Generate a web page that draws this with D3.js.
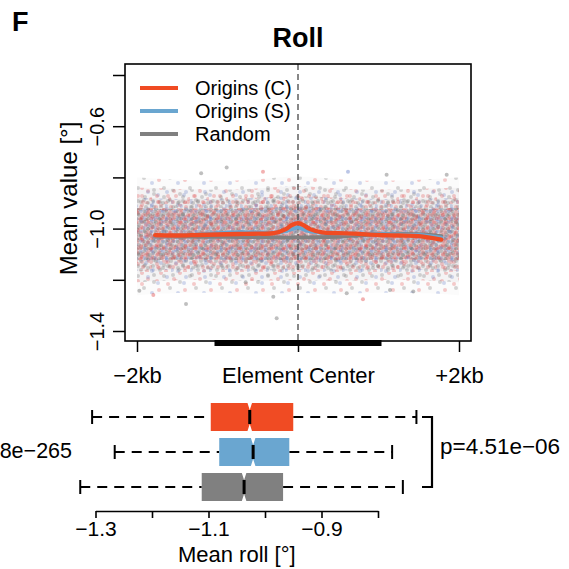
<!DOCTYPE html>
<html>
<head>
<meta charset="utf-8">
<script src="https://cdn.jsdelivr.net/npm/d3@7"></script>
<style>
body { margin: 0; background: #fff; }
text { font-family: "Liberation Sans", Arial, Helvetica, sans-serif; fill: #000; }
</style>
</head>
<body>
<div id="container"></div>
<script>
//profile data: smoothed mean roll around element centers (bp from center)
const profileBp = [-1775, -1500, -1250, -1000, -750, -500, -300, -150, -75, 0, 75, 150, 300, 500, 750, 1000, 1250, 1500, 1780]
const originsC = [-1.026, -1.027, -1.025, -1.023, -1.021, -1.020, -1.018, -1.002, -0.986, -0.979, -0.988, -1.002, -1.015, -1.018, -1.021, -1.025, -1.027, -1.029, -1.043]
const originsS = [-1.029, -1.027, -1.023, -1.018, -1.014, -1.015, -1.017, -1.009, -1.002, -0.996, -1.004, -1.011, -1.017, -1.019, -1.021, -1.021, -1.023, -1.025, -1.035]
const randomSet = [-1.031, -1.031, -1.032, -1.032, -1.033, -1.033, -1.034, -1.035, -1.035, -1.034, -1.034, -1.034, -1.033, -1.032, -1.027, -1.022, -1.021, -1.022, -1.029]

//point cloud envelopes, outer (sparse) to inner (dense)
const cloudBp = [-2000, -1500, -1000, -500, 0, 500, 1000, 1500, 2000]
const band1Top = [-0.80, -0.81, -0.815, -0.81, -0.79, -0.81, -0.815, -0.81, -0.80]
const band1Bot = [-1.26, -1.25, -1.25, -1.255, -1.25, -1.255, -1.25, -1.25, -1.26]
const band2Top = [-0.84, -0.845, -0.85, -0.845, -0.83, -0.845, -0.85, -0.845, -0.84]
const band2Bot = [-1.21, -1.20, -1.20, -1.205, -1.20, -1.205, -1.20, -1.20, -1.21]
const band3Top = [-0.88, -0.885, -0.885, -0.88, -0.87, -0.88, -0.885, -0.885, -0.88]
const band3Bot = [-1.165, -1.16, -1.16, -1.165, -1.16, -1.165, -1.16, -1.16, -1.165]
const band4Top = [-0.92, -0.925, -0.925, -0.92, -0.91, -0.92, -0.925, -0.925, -0.92]
const band4Bot = [-1.125, -1.12, -1.12, -1.125, -1.12, -1.125, -1.12, -1.12, -1.125]

//single stray points outside the cloud
const strayBp = [-265, -1391, -1971, -886, -650, 605, 621, -435, 807, 1847, 1101, -1203, -307, 1432, -1797, 1143]
const strayVal = [-1.350, -1.295, -1.243, -0.761, -1.210, -1.253, -0.778, -0.778, -1.276, -0.790, -0.790, -0.784, -1.266, -1.246, -1.259, -1.240]
const strayGroup = [2, 2, 2, 2, 2, 2, 1, 0, 0, 2, 2, 2, 2, 2, 0, 2]

//element region and axes
const elementRange = [-1000, 1000]
const profTicks = [-2000, 0, 2000]
const profTickLabels = ["\u22122kb", "Element Center", "+2kb"]
const yTicks = [-1.4, -1.2, -1.0, -0.8, -0.6, -0.4]
const yLabelled = [-1.4, -1.0, -0.6]

//boxplot data
const groups = ["Origins (C)", "Origins (S)", "Random"]
const groupColors = ["#f04b23", "#6aa6d0", "#808080"]
const boxQ1 = [-1.096, -1.081, -1.112]
const boxMed = [-1.027, -1.021, -1.037]
const boxQ3 = [-0.950, -0.957, -0.968]
const whiskLo = [-1.306, -1.266, -1.327]
const whiskHi = [-0.732, -0.775, -0.756]
const notchHalf = [0.004, 0.004, 0.004]
const boxTicks = [-1.3, -1.2, -1.1, -1.0, -0.9, -0.8]
const boxLabelled = [-1.3, -1.1, -0.9]

const width = 569, height = 569
const font = '"Liberation Sans", Arial, Helvetica, sans-serif'

let svg = d3.select("#container")
    .append("svg")
    .attr("width", width)
    .attr("height", height)

svg.append("rect").attr("width", width).attr("height", height).attr("fill", "#fff")
let defs = svg.append("defs")

//scales for the profile panel
const x = d3.scaleLinear().domain([-2000, 2000]).range([137, 459])
const y = d3.scaleLinear().domain([-1.4, -0.4]).range([331, 75])
const frame = {left: 125, top: 64, right: 471, bottom: 341}

//dot textures for the point cloud (R = red, B = blue, G = gray)
const dotColor = {R: "#de3b3b", B: "#5470c0", G: "#606060"}
function addPattern(id, w, h, dots, op) {
    const p = defs.append("pattern").attr("id", id)
        .attr("patternUnits", "userSpaceOnUse")
        .attr("width", w).attr("height", h)
    dots.forEach(d => p.append("circle")
        .attr("cx", d[0]).attr("cy", d[1]).attr("r", 2)
        .attr("fill", dotColor[d[2]]).attr("fill-opacity", op))
}
addPattern("tex1", 26, 22, [[3,4,"R"],[14,2,"G"],[22,7,"B"],[8,12,"G"],[18,15,"R"],[2,19,"B"],[12,20,"R"],[24,18,"G"]], 0.26)
addPattern("tex2", 19, 17, [[2,3,"G"],[9,1,"R"],[15,5,"B"],[5,9,"R"],[12,10,"G"],[18,12,"R"],[1,15,"B"],[8,15,"G"],[14,16,"R"]], 0.26)
addPattern("tex3", 15, 13, [[1,2,"R"],[6,1,"G"],[11,3,"B"],[3,6,"G"],[8,7,"R"],[13,8,"G"],[1,11,"B"],[6,12,"R"],[11,12,"G"],[14,1,"R"]], 0.26)
addPattern("tex4", 11, 10, [[1,1,"G"],[5,2,"R"],[9,1,"B"],[3,5,"R"],[7,5,"G"],[10,7,"R"],[1,8,"B"],[5,9,"G"],[8,9,"R"]], 0.27)

function band(top, bot) {
    return d3.area()
        .x((d, i) => x(cloudBp[i]))
        .y0((d, i) => y(bot[i]))
        .y1((d, i) => y(top[i]))
        .curve(d3.curveBasis)(cloudBp)
}

let cloud = svg.append("g")
const bands = [[band1Top, band1Bot], [band2Top, band2Bot], [band3Top, band3Bot], [band4Top, band4Bot]]
const tints = [0.03, 0.06, 0.08, 0.11]
bands.forEach((b, k) => {
    cloud.append("path").attr("d", band(b[0], b[1]))
        .attr("fill", "#8f7284").attr("fill-opacity", tints[k])
    cloud.append("path").attr("d", band(b[0], b[1]))
        .attr("fill", `url(#tex${k + 1})`)
})

const strayColors = [dotColor.R, dotColor.B, dotColor.G]
cloud.selectAll(".stray")
    .data(strayBp)
    .enter().append("circle")
    .attr("cx", (d) => x(d))
    .attr("cy", (d, i) => y(strayVal[i]))
    .attr("r", 2)
    .attr("fill", (d, i) => strayColors[strayGroup[i]])
    .attr("fill-opacity", 0.4)

//center line
svg.append("line")
    .attr("x1", x(0)).attr("x2", x(0))
    .attr("y1", frame.top).attr("y2", frame.bottom)
    .attr("stroke", "#555").attr("stroke-width", 1.4)
    .attr("stroke-dasharray", "6,4")

//mean profiles
const profLine = d3.line()
    .x((d, i) => x(profileBp[i]))
    .y((d) => y(d))
    .curve(d3.curveCatmullRom)
const series = [randomSet, originsS, originsC]
const seriesColors = ["#808080", "#6aa6d0", "#f04b23"]
const seriesWidths = [3.8, 3.8, 4.3]
series.forEach((s, k) => {
    svg.append("path")
        .attr("d", profLine(s))
        .attr("fill", "none")
        .attr("stroke", seriesColors[k])
        .attr("stroke-width", seriesWidths[k])
        .attr("stroke-linecap", "round")
})

//frame
svg.append("rect")
    .attr("x", frame.left).attr("y", frame.top)
    .attr("width", frame.right - frame.left).attr("height", frame.bottom - frame.top)
    .attr("fill", "none").attr("stroke", "#000").attr("stroke-width", 1.6)

//element bar
svg.append("line")
    .attr("x1", x(elementRange[0])).attr("x2", x(elementRange[1]))
    .attr("y1", 343).attr("y2", 343)
    .attr("stroke", "#000").attr("stroke-width", 6)
    .attr("stroke-linecap", "square")

//y axis
let yAxis = svg.append("g")
    .attr("transform", `translate(${frame.left},0)`)
    .call(d3.axisLeft(y).tickValues(yTicks).tickSize(12).tickSizeOuter(0)
        .tickFormat((d) => yLabelled.some(v => Math.abs(v - d) < 1e-9) ? d3.format(".1f")(d) : ""))
yAxis.select(".domain").remove()
yAxis.selectAll(".tick line").attr("stroke-width", 1.5)
yAxis.selectAll(".tick text")
    .attr("transform", "rotate(-90)")
    .attr("x", 0).attr("y", -21).attr("dy", 0)
    .attr("text-anchor", "middle")
    .style("font-family", font).style("font-size", "20px")

//x axis of profile
let xAxis = svg.append("g")
    .attr("transform", `translate(0,${frame.bottom})`)
    .call(d3.axisBottom(x).tickValues(profTicks).tickSize(11).tickSizeOuter(0)
        .tickFormat((d, i) => profTickLabels[i]))
xAxis.select(".domain").remove()
xAxis.selectAll(".tick line").attr("stroke-width", 1.5)
xAxis.selectAll(".tick text")
    .attr("y", 42).attr("dy", 0)
    .style("font-family", font).style("font-size", "22px")

//y title
svg.append("text")
    .attr("transform", `translate(77,${(frame.top + frame.bottom) / 2 - 4}) rotate(-90)`)
    .attr("text-anchor", "middle")
    .style("font-size", "24px")
    .text("Mean value [\u00b0]")

//title and panel letter
svg.append("text").attr("x", 298).attr("y", 47).attr("text-anchor", "middle")
    .style("font-size", "27px").style("font-weight", "bold").text("Roll")
svg.append("text").attr("x", 12).attr("y", 31)
    .style("font-size", "27px").style("font-weight", "bold").text("F")

//legend
const legendY = d3.scalePoint().domain(groups).range([88, 134])
let legend = svg.append("g")
groups.forEach((g, i) => {
    legend.append("line")
        .attr("x1", 140).attr("x2", 178)
        .attr("y1", legendY(g)).attr("y2", legendY(g))
        .attr("stroke", groupColors[i]).attr("stroke-width", 4)
    legend.append("text")
        .attr("x", 195).attr("y", legendY(g))
        .attr("dy", "0.35em")
        .style("font-size", "20px")
        .text(g)
})

//boxplot panel
const bx = d3.scaleLinear().domain([-1.3, -0.8]).range([95.5, 378])
const by = d3.scalePoint().domain(groups).range([417, 487])
const hh = 14
let boxes = svg.append("g")
groups.forEach((g, i) => {
    const yc = by(g)
    const m = bx(boxMed[i]), nl = bx(boxMed[i] - notchHalf[i]), nr = bx(boxMed[i] + notchHalf[i])
    const q1 = bx(boxQ1[i]), q3 = bx(boxQ3[i])
    //whiskers
    boxes.append("line").attr("x1", bx(whiskLo[i])).attr("x2", q1)
        .attr("y1", yc).attr("y2", yc)
        .attr("stroke", "#000").attr("stroke-width", 2).attr("stroke-dasharray", "10,7")
    boxes.append("line").attr("x1", q3).attr("x2", bx(whiskHi[i]))
        .attr("y1", yc).attr("y2", yc)
        .attr("stroke", "#000").attr("stroke-width", 2).attr("stroke-dasharray", "10,7")
    ;[whiskLo[i], whiskHi[i]].forEach(w => {
        boxes.append("line").attr("x1", bx(w)).attr("x2", bx(w))
            .attr("y1", yc - hh / 2).attr("y2", yc + hh / 2)
            .attr("stroke", "#000").attr("stroke-width", 2)
    })
    //notched box
    const pts = [[q1, yc - hh], [nl, yc - hh], [m, yc - hh / 2], [nr, yc - hh], [q3, yc - hh],
                 [q3, yc + hh], [nr, yc + hh], [m, yc + hh / 2], [nl, yc + hh], [q1, yc + hh]]
    boxes.append("path")
        .attr("d", d3.line()(pts) + "Z")
        .attr("fill", groupColors[i])
    boxes.append("line").attr("x1", m).attr("x2", m)
        .attr("y1", yc - hh / 2).attr("y2", yc + hh / 2)
        .attr("stroke", "#000").attr("stroke-width", 3)
})

//bracket and p-values
svg.append("path")
    .attr("d", `M422,${by(groups[0])}H432V${by(groups[2])}H422`)
    .attr("fill", "none").attr("stroke", "#000").attr("stroke-width", 2.2)
svg.append("text").attr("x", 440).attr("y", 454).style("font-size", "22.5px").text("p=4.51e\u221206")
svg.append("text").attr("x", 72).attr("y", 458).attr("text-anchor", "end").style("font-size", "21.5px").text("8e\u2212265")

//boxplot axis
let bAxis = svg.append("g")
    .attr("transform", "translate(0,511)")
    .call(d3.axisBottom(bx).tickValues(boxTicks).tickSize(7).tickSizeOuter(0)
        .tickFormat((d) => boxLabelled.some(v => Math.abs(v - d) < 1e-9) ? d3.format(".1f")(d) : ""))
bAxis.select(".domain").attr("stroke-width", 1.6)
bAxis.selectAll(".tick line").attr("stroke-width", 1.6)
bAxis.selectAll(".tick text")
    .attr("y", 25).attr("dy", 0)
    .style("font-family", font).style("font-size", "21px")

svg.append("text").attr("x", bx(-1.05)).attr("y", 562).attr("text-anchor", "middle")
    .style("font-size", "22px").text("Mean roll [\u00b0]")
</script>
</body>
</html>
